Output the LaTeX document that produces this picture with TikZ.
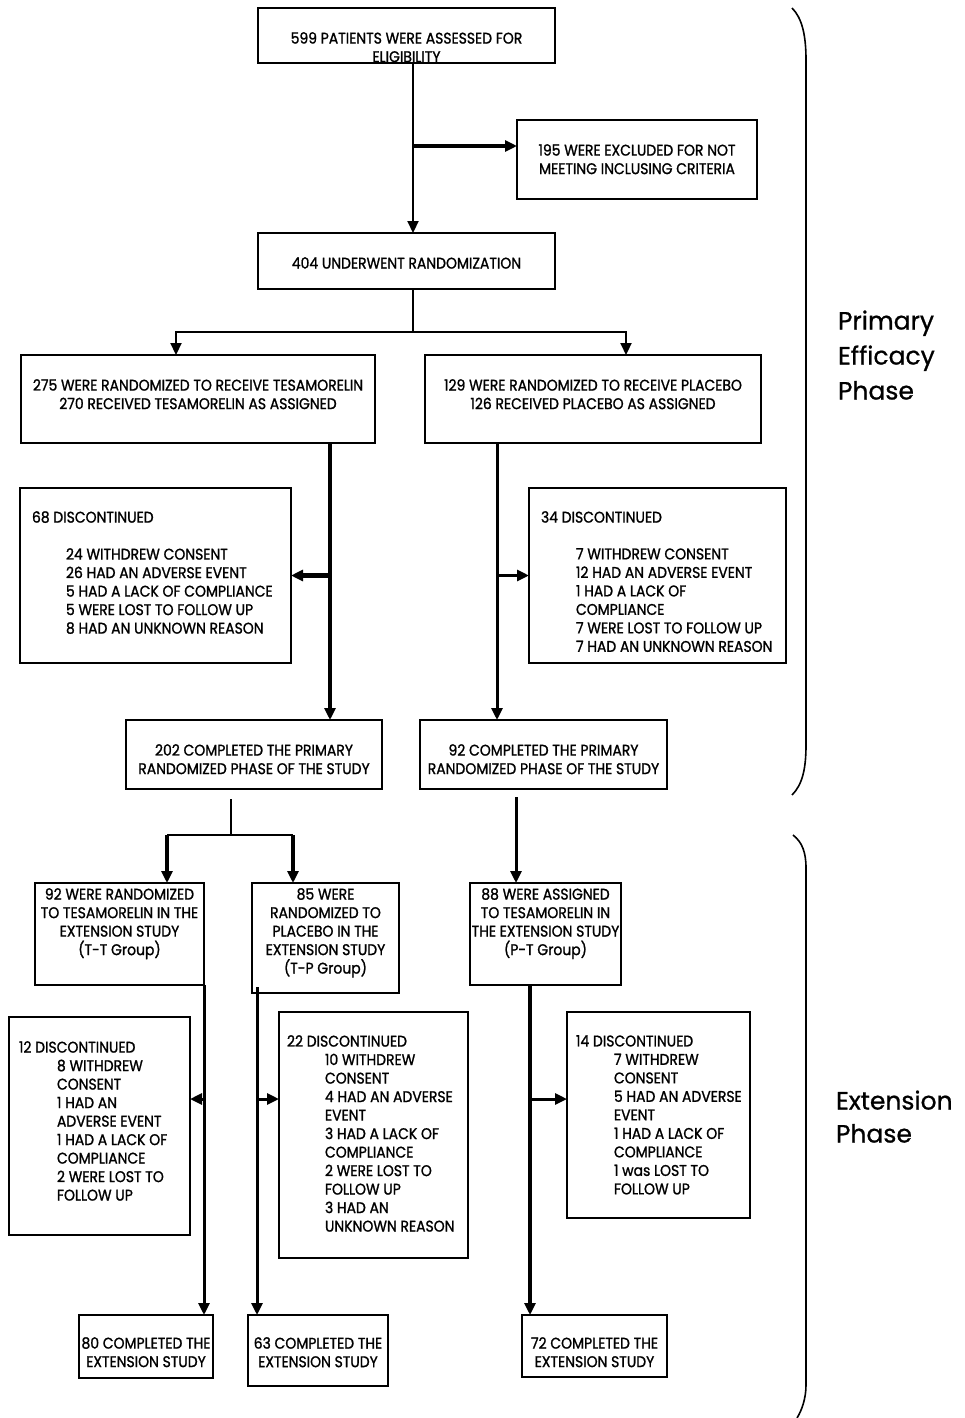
\documentclass[tikz,border=0pt]{standalone}
\usepackage{fontspec}
\usetikzlibrary{arrows.meta,calc}
\newfontfamily\bxfont[FakeStretch=0.9,FakeBold=1.2]{Poppins}
\newfontfamily\lblfont[FakeBold=0.8]{Poppins}
\begin{document}
\begin{tikzpicture}[x=1pt,y=-1pt,
  box/.style={draw, line width=1.8pt, inner sep=0pt, outer sep=0pt, anchor=north west},
  txt/.style={inner sep=0pt, outer sep=0pt, font=\bxfont\fontsize{15.5}{18.5}\selectfont},
  ctxt/.style={txt, align=center, anchor=north},
  ltxt/.style={txt, align=left, anchor=north west},
  lbl/.style={inner sep=0pt, outer sep=0pt, align=left, anchor=north west},
  tip/.style={-{Triangle[length=12pt,width=11pt]}},
  thinline/.style={line width=1.6pt},
  thinarr/.style={line width=2.2pt, tip},
  medarr/.style={line width=3pt, tip},
  thickarr/.style={line width=4.2pt, tip},
  brace/.style={line width=1.6pt}
]
\useasboundingbox[fill=white] (0,0) rectangle (964,1418);

% ---------- boxes ----------
\node[box, minimum width=297pt, minimum height=55pt] (n1) at (258,8) {};
\node[box, minimum width=240pt, minimum height=79pt] (n2) at (517,120) {};
\node[box, minimum width=297pt, minimum height=56pt] (n3) at (258,233) {};
\node[box, minimum width=354pt, minimum height=88pt] (n4) at (21,355) {};
\node[box, minimum width=336pt, minimum height=88pt] (n5) at (425,355) {};
\node[box, minimum width=271pt, minimum height=175pt] (n6) at (20,488) {};
\node[box, minimum width=257pt, minimum height=175pt] (n7) at (529,488) {};
\node[box, minimum width=256pt, minimum height=69pt] (n8) at (126,720) {};
\node[box, minimum width=247pt, minimum height=69pt] (n9) at (420,720) {};
\node[box, minimum width=169pt, minimum height=102pt] (n10) at (35,883) {};
\node[box, minimum width=147pt, minimum height=110pt] (n11) at (252,883) {};
\node[box, minimum width=151pt, minimum height=102pt] (n12) at (470,883) {};
\node[box, minimum width=181pt, minimum height=218pt] (n13) at (9,1017) {};
\node[box, minimum width=189pt, minimum height=246pt] (n14) at (279,1012) {};
\node[box, minimum width=183pt, minimum height=206pt] (n15) at (567,1012) {};
\node[box, minimum width=134pt, minimum height=63pt] (n16) at (79,1315) {};
\node[box, minimum width=140pt, minimum height=71pt] (n17) at (248,1315) {};
\node[box, minimum width=145pt, minimum height=62pt] (n18) at (522,1315) {};

% ---------- texts (y = first baseline - cap height) ----------
\node[ctxt] (t1) at (406.5,32.2) {599 PATIENTS WERE ASSESSED FOR\\ELIGIBILITY};
\node[ctxt] (t2) at (637,144.2) {195 WERE EXCLUDED FOR NOT\\MEETING INCLUSING CRITERIA};
\node[ctxt] (t3) at (406.5,257.2) {404 UNDERWENT RANDOMIZATION};
\node[ctxt] (t4) at (198,379.2) {275 WERE RANDOMIZED TO RECEIVE TESAMORELIN\\270 RECEIVED TESAMORELIN AS ASSIGNED};
\node[ctxt] (t5) at (593,379.2) {129 WERE RANDOMIZED TO RECEIVE PLACEBO\\126 RECEIVED PLACEBO AS ASSIGNED};
\node[ltxt] (t6h) at (32,511.2) {68 DISCONTINUED};
\node[ltxt] (t6) at (66,548.2) {24 WITHDREW CONSENT\\26 HAD AN ADVERSE EVENT\\5 HAD A LACK OF COMPLIANCE\\5 WERE LOST TO FOLLOW UP\\8 HAD AN UNKNOWN REASON};
\node[ltxt] (t7h) at (541,511.2) {34 DISCONTINUED};
\node[ltxt] (t7) at (576,548.2) {7 WITHDREW CONSENT\\12 HAD AN ADVERSE EVENT\\1 HAD A LACK OF\\COMPLIANCE\\7 WERE LOST TO FOLLOW UP\\7 HAD AN UNKNOWN REASON};
\node[ctxt] (t8) at (254,744.2) {202 COMPLETED THE PRIMARY\\RANDOMIZED PHASE OF THE STUDY};
\node[ctxt] (t9) at (543.5,744.2) {92 COMPLETED THE PRIMARY\\RANDOMIZED PHASE OF THE STUDY};
\node[ctxt] (t10) at (119.5,888.2) {92 WERE RANDOMIZED\\TO TESAMORELIN IN THE\\EXTENSION STUDY\\(T-T Group)};
\node[ctxt] (t11) at (325.5,888.2) {85 WERE\\RANDOMIZED TO\\PLACEBO IN THE\\EXTENSION STUDY\\(T-P Group)};
\node[ctxt] (t12) at (545.5,888.2) {88 WERE ASSIGNED\\TO TESAMORELIN IN\\THE EXTENSION STUDY\\(P-T Group)};
\node[ltxt] (t13h) at (19,1041.2) {12 DISCONTINUED};
\node[ltxt] (t13) at (57,1059.7) {8 WITHDREW\\CONSENT\\1 HAD AN\\ADVERSE EVENT\\1 HAD A LACK OF\\COMPLIANCE\\2 WERE LOST TO\\FOLLOW UP};
\node[ltxt] (t14h) at (287,1035.2) {22 DISCONTINUED};
\node[ltxt] (t14) at (325,1053.7) {10 WITHDREW\\CONSENT\\4 HAD AN ADVERSE\\EVENT\\3 HAD A LACK OF\\COMPLIANCE\\2 WERE LOST TO\\FOLLOW UP\\3 HAD AN\\UNKNOWN REASON};
\node[ltxt] (t15h) at (576,1035.2) {14 DISCONTINUED};
\node[ltxt] (t15) at (614,1053.7) {7 WITHDREW\\CONSENT\\5 HAD AN ADVERSE\\EVENT\\1 HAD A LACK OF\\COMPLIANCE\\1 was LOST TO\\FOLLOW UP};
\node[ctxt] (t16) at (146,1337.2) {80 COMPLETED THE\\EXTENSION STUDY};
\node[ctxt] (t17) at (318,1337.2) {63 COMPLETED THE\\EXTENSION STUDY};
\node[ctxt] (t18) at (594.5,1337.2) {72 COMPLETED THE\\EXTENSION STUDY};

% ---------- phase labels ----------
\node[lbl, font=\lblfont\fontsize{25}{35}\selectfont] (p1) at (838,310.5) {Primary\\Efficacy\\Phase};
\node[lbl, font=\lblfont\fontsize{25}{33}\selectfont] (p2) at (836,1090.5) {Extension\\Phase};

% ---------- connectors ----------
\coordinate (b1) at (413,146);
\draw[thinarr] ($(n1.south west)+(155,0)$) -- ($(n3.north west)+(155,0)$);
\draw[thickarr] (b1) -- (b1 -| n2.west);

\coordinate (s1) at (413,332);
\draw[thinline] ($(n3.south west)+(155,0)$) -- (s1);
\draw[thinarr] (s1) -| ($(n4.north west)+(155,0)$);
\draw[thinarr] (s1) -| ($(n5.north west)+(201,0)$);

\draw[thickarr] ($(n4.south west)+(309,0)$) -- ($(n8.north west)+(204,0)$);
\coordinate (b2) at (330,575.5);
\draw[thickarr] (b2) -- (n6.east);

\draw[medarr] ($(n5.south west)+(72,0)$) -- ($(n9.north west)+(77,0)$);
\coordinate (b3) at (497,575.5);
\draw[medarr] (b3) -- (n7.west);

\coordinate (s2) at (231,835);
\coordinate (s2l) at (167,835);
\coordinate (s2r) at (293,835);
\draw[thinline] ($(n8.south west)+(105,10)$) -- (s2);
\draw[thinline] (s2l) -- (s2r);
\draw[thickarr] (s2l) -- (s2l |- n10.north);
\draw[thickarr] (s2r) -- (s2r |- n11.north);

\draw[medarr] ($(n9.south west)+(96,8)$) -- ($(n12.north west)+(46,0)$);

\draw[medarr] (n10.south east) -- ($(n16.north west)+(125,0)$);
\coordinate (b4) at (204,1099);
\draw[medarr] (b4) -- (b4 -| n13.east);

\draw[medarr] ($(n11.south west)+(5,-6)$) -- ($(n17.north west)+(9,0)$);
\coordinate (b5) at (257,1099);
\draw[medarr] (b5) -- (b5 -| n14.west);

\draw[thickarr] ($(n12.south west)+(60,0)$) -- ($(n18.north west)+(8,0)$);
\coordinate (b6) at (530,1099);
\draw[medarr] (b6) -- (b6 -| n15.west);

% ---------- braces ----------
\draw[brace] (792,8) .. controls (802,18) and (806,35) .. (806,60) -- (806,745) .. controls (806,770) and (802,785) .. (792,795);
\draw[brace] (793,835) .. controls (802,842) and (806,852) .. (806,868) -- (806,1385) .. controls (806,1398) and (802,1410) .. (797,1418);
\end{tikzpicture}
\end{document}
